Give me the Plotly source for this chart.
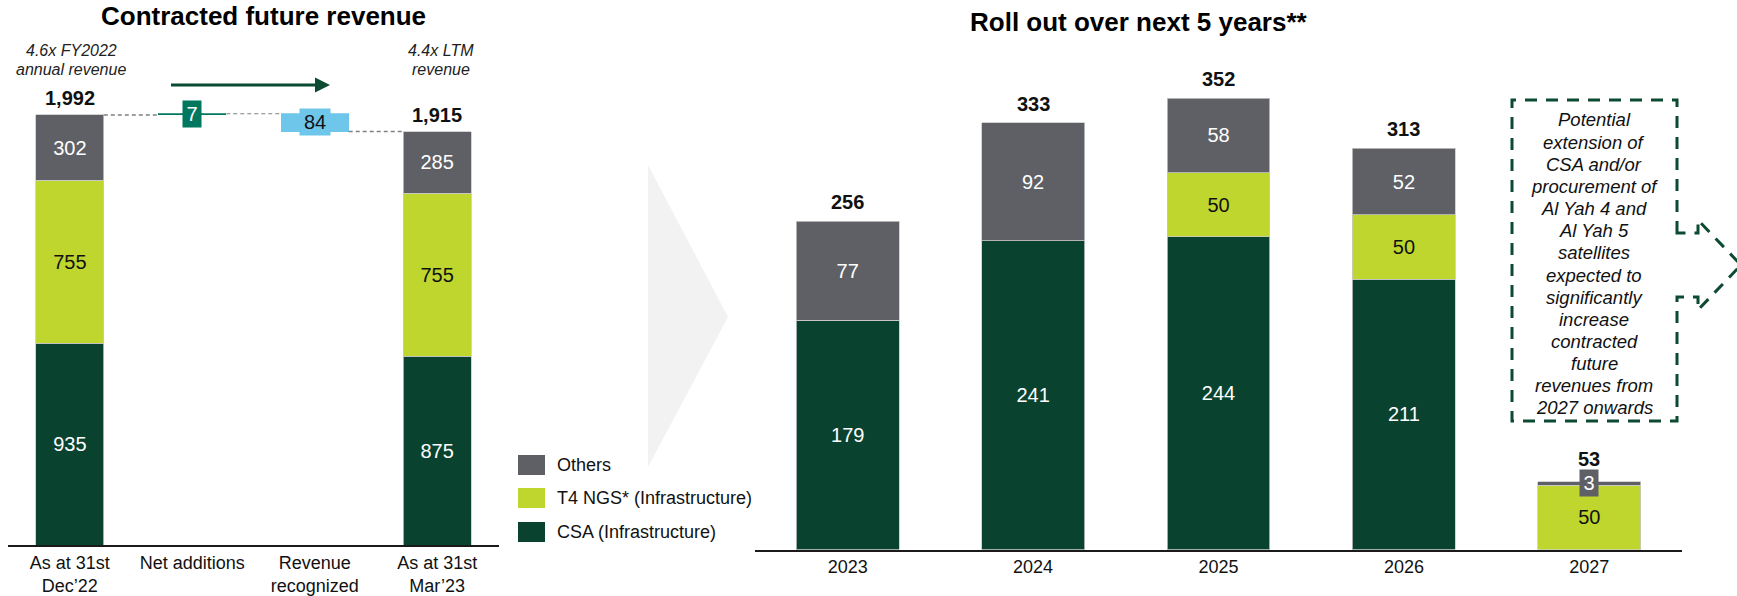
import plotly.graph_objects as go

W, H = 1737, 596


def fx(p):
    return p / W


def fy(p):
    return 1 - p / H


# ---------------- data ----------------
left_categories = ["As at 31st<br>Dec’22", "Net additions", "Revenue<br>recognized", "As at 31st<br>Mar’23"]
start_values = {"CSA (Infrastructure)": 935, "T4 NGS* (Infrastructure)": 755, "Others": 302}
end_values = {"CSA (Infrastructure)": 875, "T4 NGS* (Infrastructure)": 755, "Others": 285}
net_additions = 7
revenue_recognized = 84
left_notes = [["4.6x FY2022", "annual revenue"], ["4.4x LTM", "revenue"]]

years = ["2023", "2024", "2025", "2026", "2027"]
csa = [179, 241, 244, 211, 0]
t4 = [0, 0, 50, 50, 50]
others = [77, 92, 58, 52, 3]

series_names = ["CSA (Infrastructure)", "T4 NGS* (Infrastructure)", "Others"]
callout_lines = ["Potential", "extension of", "CSA and/or", "procurement of", "Al Yah 4 and",
                 "Al Yah 5", "satellites", "expected to", "significantly", "increase",
                 "contracted", "future", "revenues from", "2027 onwards"]

# ---------------- styles ----------------
FONT = "Liberation Sans, Arial, sans-serif"
C_CSA = "#0A4230"
C_T4 = "#BFD62F"
C_OTH = "#5E6066"
C_ADD = "#00775F"
C_REV = "#6EC6EA"
C_ARROW = "#0C4A32"
series_colors = {"CSA (Infrastructure)": C_CSA, "T4 NGS* (Infrastructure)": C_T4, "Others": C_OTH}
series_textcolor = {"CSA (Infrastructure)": "white", "T4 NGS* (Infrastructure)": "#111111", "Others": "white"}
BW = 0.555

fig = go.Figure()

# ---------------- left chart ----------------
for name in series_names:
    vals = [start_values[name], end_values[name]]
    fig.add_trace(go.Bar(
        x=[left_categories[0], left_categories[3]], y=vals,
        marker=dict(color=series_colors[name], line=dict(color="#C8C8C8", width=0.8)),
        text=[str(v) for v in vals], textposition="inside", insidetextanchor="middle",
        textangle=0, textfont=dict(family=FONT, size=20, color=series_textcolor[name]),
        width=BW, xaxis="x", yaxis="y", showlegend=False, hoverinfo="skip",
    ))

start_total = sum(start_values.values())
end_total = sum(end_values.values())
fig.add_trace(go.Bar(
    x=[left_categories[1]], y=[net_additions], base=[start_total],
    marker=dict(color=C_ADD, line=dict(width=0)), width=BW,
    xaxis="x", yaxis="y", showlegend=False, hoverinfo="skip",
))
fig.add_trace(go.Bar(
    x=[left_categories[2]], y=[revenue_recognized], base=[start_total + net_additions - revenue_recognized],
    marker=dict(color=C_REV, line=dict(width=0)), width=BW,
    xaxis="x", yaxis="y", showlegend=False, hoverinfo="skip",
))

# ---------------- right chart ----------------
right_series = {"CSA (Infrastructure)": csa, "T4 NGS* (Infrastructure)": t4, "Others": others}
for name in series_names:
    vals = right_series[name]
    fig.add_trace(go.Bar(
        x=years, y=vals,
        marker=dict(color=series_colors[name], line=dict(color="#C8C8C8", width=0.8)),
        text=[str(v) if v >= 10 else "" for v in vals], textposition="inside",
        insidetextanchor="middle", textangle=0,
        textfont=dict(family=FONT, size=20, color=series_textcolor[name]),
        width=BW, xaxis="x2", yaxis="y2", showlegend=False, hoverinfo="skip",
    ))

annotations = []
shapes = []

# totals left
for idx, tot in [(0, start_total), (3, end_total)]:
    annotations.append(dict(x=idx, y=tot, xref="x", yref="y", text=f"<b>{tot:,}</b>",
                            showarrow=False, xanchor="center", yanchor="bottom", yshift=4,
                            font=dict(family=FONT, size=20, color="#111111")))

# bridge value boxes
annotations.append(dict(x=1, y=start_total + net_additions / 2, xref="x", yref="y",
                        text=str(net_additions), showarrow=False, bgcolor=C_ADD,
                        width=18, height=26, borderpad=0, xanchor="center",
                        font=dict(family=FONT, size=20, color="white")))
annotations.append(dict(x=2, y=start_total + net_additions - revenue_recognized / 2, xref="x", yref="y",
                        text=str(revenue_recognized), showarrow=False, bgcolor=C_REV,
                        width=30, height=26, borderpad=0, xanchor="center",
                        font=dict(family=FONT, size=20, color="#111111")))

# dashed connectors
conn = [(0, 1, start_total), (1, 2, start_total + net_additions), (2, 3, end_total)]
for a, b, lvl in conn:
    shapes.append(dict(type="line", xref="x", yref="y", x0=a + BW / 2, x1=b - BW / 2, y0=lvl, y1=lvl,
                       line=dict(color="#808080", width=1.5, dash="4px,3px")))

# notes above left chart
for (cx, lines) in zip([71, 441], left_notes):
    for k, line in enumerate(lines):
        annotations.append(dict(x=fx(cx), y=fy(50 + 19.5 * k), xref="paper", yref="paper",
                                text=f"<i>{line}</i>", showarrow=False,
                                xanchor="center", yanchor="middle",
                                font=dict(family=FONT, size=16, color="#222222")))

# green arrow
shapes.append(dict(type="line", xref="paper", yref="paper", x0=fx(171), x1=fx(318), y0=fy(85), y1=fy(85),
                   line=dict(color=C_ARROW, width=3)))
shapes.append(dict(type="path", xref="paper", yref="paper",
                   path=f"M {fx(315)} {fy(77.5)} L {fx(330)} {fy(85)} L {fx(315)} {fy(92.5)} Z",
                   fillcolor=C_ARROW, line=dict(width=0)))

# chevron
shapes.append(dict(type="path", xref="paper", yref="paper", layer="below",
                   path=f"M {fx(648)} {fy(165)} L {fx(728)} {fy(317)} L {fx(648)} {fy(467)} Z",
                   fillcolor="#F2F2F2", line=dict(width=0)))

# titles
annotations.append(dict(x=fx(263), y=fy(16), xref="paper", yref="paper", text="<b>Contracted future revenue</b>",
                        showarrow=False, xanchor="center", yanchor="middle",
                        font=dict(family=FONT, size=26, color="#000000")))
annotations.append(dict(x=fx(1139), y=fy(22), xref="paper", yref="paper", text="<b>Roll out over next 5 years**</b>",
                        showarrow=False, xanchor="center", yanchor="middle",
                        font=dict(family=FONT, size=26, color="#000000")))

# legend (manual)
legend_rows = [("Others", 465), ("T4 NGS* (Infrastructure)", 498), ("CSA (Infrastructure)", 532)]
for name, yc in legend_rows:
    shapes.append(dict(type="rect", xref="paper", yref="paper", x0=fx(518), x1=fx(545),
                       y0=fy(yc - 10), y1=fy(yc + 10), fillcolor=series_colors[name], line=dict(width=0)))
    annotations.append(dict(x=fx(555), y=fy(yc), xref="paper", yref="paper", text=name, showarrow=False,
                            xanchor="left", yanchor="middle",
                            font=dict(family=FONT, size=18, color="#111111")))

# right totals
for i, y in enumerate(years):
    tot = csa[i] + t4[i] + others[i]
    small = 0 < others[i] < 10
    annotations.append(dict(x=i, y=tot, xref="x2", yref="y2", text=f"<b>{tot}</b>",
                            showarrow=False, xanchor="center", yanchor="bottom",
                            yshift=10 if small else 6,
                            font=dict(family=FONT, size=20, color="#111111")))
    if small:
        annotations.append(dict(x=i, y=csa[i] + t4[i] + others[i] / 2, xref="x2", yref="y2",
                                text=str(others[i]), showarrow=False, bgcolor=C_OTH,
                                width=18, height=26, borderpad=0, xanchor="center",
                                font=dict(family=FONT, size=20, color="white")))

# callout box with pointer
L, R, T, B = 1512, 1677, 100, 421
path = (f"M {fx(R)} {fy(233)} L {fx(R)} {fy(T)} L {fx(L)} {fy(T)} L {fx(L)} {fy(B)} L {fx(R)} {fy(B)} "
        f"L {fx(R)} {fy(297)} L {fx(1698)} {fy(297)} L {fx(1698)} {fy(310)} L {fx(1741)} {fy(265)} "
        f"L {fx(1698)} {fy(220)} L {fx(1698)} {fy(233)} Z")
shapes.append(dict(type="path", xref="paper", yref="paper", path=path,
                   line=dict(color=C_ARROW, width=3, dash="12px,9px"), fillcolor="rgba(0,0,0,0)"))
for k, line in enumerate(callout_lines):
    annotations.append(dict(x=fx(1594), y=fy(120 + 22.15 * k), xref="paper", yref="paper",
                            text=f"<i>{line}</i>", showarrow=False,
                            xanchor="center", yanchor="middle",
                            font=dict(family=FONT, size=18.5, color="#111111")))

fig.update_layout(
    width=W, height=H, margin=dict(l=0, r=0, t=0, b=0),
    paper_bgcolor="white", plot_bgcolor="rgba(0,0,0,0)",
    barmode="stack", showlegend=False,
    font=dict(family=FONT, color="#111111"),
    xaxis=dict(domain=[fx(8), fx(499)], range=[-0.505, 3.505], type="category",
               categoryorder="array", categoryarray=left_categories,
               showline=True, linecolor="#1a1a1a", linewidth=2, ticks="", showgrid=False,
               tickfont=dict(family=FONT, size=18, color="#111111"), fixedrange=True),
    yaxis=dict(domain=[fy(545), fy(113.2)], range=[0, 2000], visible=False, fixedrange=True),
    xaxis2=dict(domain=[fx(755), fx(1682)], range=[-0.5, 4.5], type="category",
                categoryorder="array", categoryarray=years, anchor="y2",
                showline=True, linecolor="#1a1a1a", linewidth=2, ticks="", showgrid=False,
                tickfont=dict(family=FONT, size=18, color="#111111"), fixedrange=True),
    yaxis2=dict(domain=[fy(549.5), fy(88)], range=[0, 360], visible=False, anchor="x2", fixedrange=True),
    annotations=annotations, shapes=shapes,
)

fig.write_html("out.html")
